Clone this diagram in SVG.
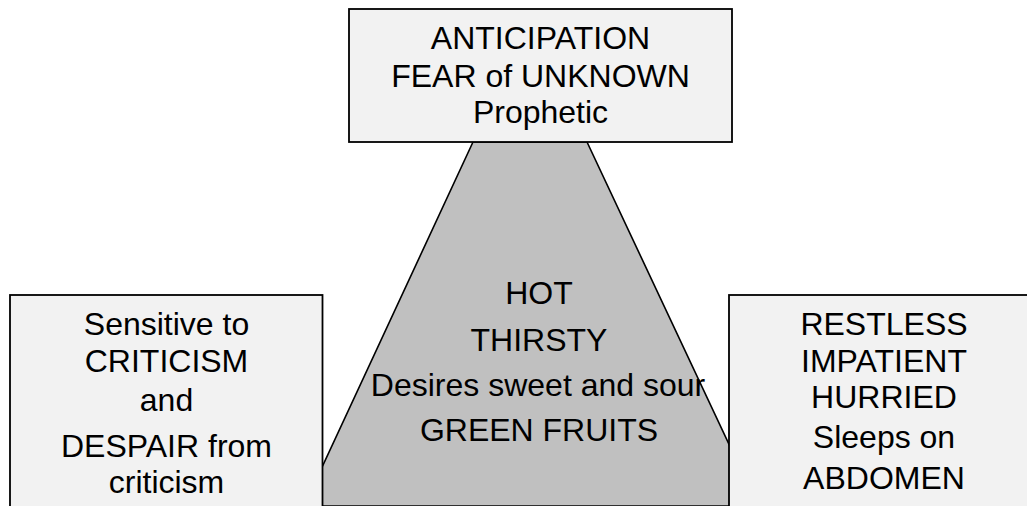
<svg xmlns="http://www.w3.org/2000/svg" width="1027" height="506" viewBox="0 0 1027 506">
<style>
.box{fill:#f2f2f2;stroke:#000;stroke-width:1.8}
.trap{fill:#c0c0c0;stroke:#000;stroke-width:1.6}
text{font-family:"Liberation Sans",Arial,sans-serif;font-size:32px;fill:#000;text-anchor:middle}
</style>
<rect width="1027" height="506" fill="#fff"/>
<g id="center">
<polygon class="trap" points="473,142 587,142 758,506 304,506"/>
<text x="539" y="304">HOT</text>
<text x="539" y="351">THIRSTY</text>
<text x="538" y="396">Desires sweet and sour</text>
<text x="539" y="441">GREEN FRUITS</text>
</g>
<g id="top">
<rect class="box" x="349" y="9" width="383" height="133"/>
<text x="540.5" y="49">ANTICIPATION</text>
<text x="540.5" y="87">FEAR of UNKNOWN</text>
<text x="540.5" y="123">Prophetic</text>
</g>
<g id="left">
<rect class="box" x="10" y="295" width="312.5" height="230"/>
<text x="166.5" y="335">Sensitive to</text>
<text x="166.5" y="372">CRITICISM</text>
<text x="166.5" y="411">and</text>
<text x="166.5" y="457">DESPAIR from</text>
<text x="166.5" y="493">criticism</text>
</g>
<g id="right">
<rect class="box" x="729" y="295" width="320" height="230"/>
<text x="884" y="335">RESTLESS</text>
<text x="884" y="372">IMPATIENT</text>
<text x="884" y="408">HURRIED</text>
<text x="884" y="448">Sleeps on</text>
<text x="884" y="489">ABDOMEN</text>
</g>
<g id="connectors"></g>
</svg>
